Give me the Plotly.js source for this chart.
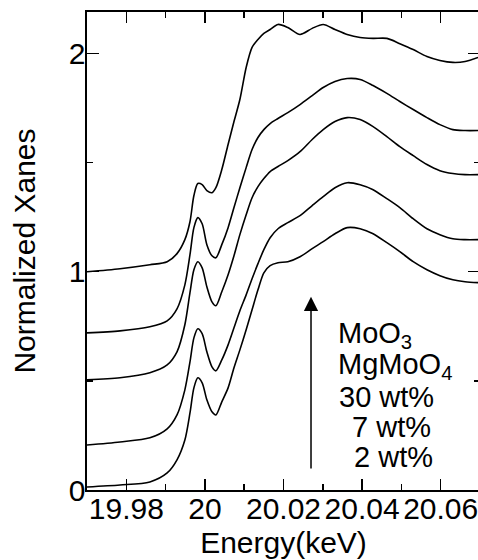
<!DOCTYPE html>
<html>
<head>
<meta charset="utf-8">
<script src="https://cdn.plot.ly/plotly-3.0.1.min.js"></script>
<style>
html, body { margin: 0; padding: 0; overflow: hidden; background: #fff; }
#chart { width: 481px; height: 560px; }
</style>
</head>
<body>
<div id="chart"></div>
<script>
// Energy grid (keV)
var energy = [19.9700,19.9784,19.9860,19.9904,19.9929,19.9949,19.9962,19.9972,19.9982,19.9993,20.0005,20.0018,20.0028,20.0043,20.0059,20.0074,20.0089,20.0105,20.0120,20.0135,20.0150,20.0166,20.0186,20.0211,20.0242,20.0273,20.0301,20.0331,20.0362,20.0395,20.0428,20.0463,20.0496,20.0530,20.0565,20.0598,20.0631,20.0662,20.0695];

// Normalized XANES (offset curves)
var moo3   = [1.000,1.014,1.032,1.046,1.083,1.147,1.229,1.349,1.404,1.399,1.372,1.362,1.385,1.468,1.583,1.688,1.789,1.936,2.028,2.064,2.092,2.110,2.133,2.119,2.087,2.115,2.133,2.110,2.087,2.073,2.069,2.069,2.045,2.018,1.986,1.968,1.959,1.963,1.982];
var mgmoo4 = [0.720,0.729,0.748,0.775,0.830,0.940,1.078,1.202,1.248,1.220,1.124,1.073,1.064,1.124,1.202,1.294,1.385,1.477,1.560,1.615,1.651,1.679,1.702,1.729,1.766,1.807,1.844,1.872,1.885,1.881,1.853,1.817,1.780,1.743,1.706,1.674,1.651,1.647,1.647];
var wt30   = [0.505,0.514,0.537,0.573,0.633,0.757,0.904,1.009,1.046,1.018,0.931,0.862,0.844,0.908,0.986,1.073,1.170,1.261,1.339,1.390,1.427,1.459,1.482,1.509,1.550,1.606,1.651,1.688,1.706,1.697,1.665,1.619,1.573,1.532,1.491,1.463,1.450,1.445,1.445];
var wt7    = [0.206,0.220,0.239,0.280,0.344,0.459,0.587,0.697,0.739,0.716,0.633,0.564,0.546,0.596,0.665,0.743,0.821,0.894,0.968,1.037,1.101,1.156,1.197,1.225,1.257,1.303,1.344,1.385,1.408,1.399,1.376,1.335,1.294,1.243,1.197,1.170,1.151,1.147,1.147];
var wt2    = [0.014,0.023,0.037,0.078,0.138,0.229,0.353,0.468,0.514,0.491,0.413,0.358,0.344,0.404,0.468,0.560,0.642,0.734,0.826,0.917,0.995,1.028,1.041,1.046,1.069,1.106,1.138,1.174,1.202,1.197,1.174,1.133,1.092,1.046,1.009,0.982,0.963,0.954,0.950];

var seriesNames = ["MoO3", "MgMoO4", "30 wt%", "7 wt%", "2 wt%"];
var labels = ["MoO<sub>3</sub>", "MgMoO<sub>4</sub>", "30 wt%", "7 wt%", "2 wt%"];

var allSeries = [moo3, mgmoo4, wt30, wt7, wt2];
var FONT = "Arial, 'Liberation Sans', sans-serif";
var FS = 30;

var traces = allSeries.map(function (ys, i) {
  return {
    x: energy, y: ys, name: seriesNames[i],
    type: "scatter", mode: "lines",
    line: { color: "#000", width: 1.6, shape: "spline", smoothing: 0.8 },
    hoverinfo: "skip"
  };
});

// label placement (data coords)
var labelX = [20.0334, 20.0334, 20.0336, 20.0369, 20.0374];
var labelY = [0.712, 0.567, 0.427, 0.289, 0.151];

var annotations = labels.map(function (t, i) {
  return {
    x: labelX[i], y: labelY[i], xref: "x", yref: "y",
    text: t, showarrow: false, xanchor: "left", yanchor: "middle",
    font: { family: FONT, size: FS - 1, color: "#000" }
  };
});
annotations.push({
  x: 20.0270, y: 0.885, ax: 20.0270, ay: 0.092,
  xref: "x", yref: "y", axref: "x", ayref: "y",
  text: "", showarrow: true, arrowhead: 2, arrowsize: 1.9, arrowwidth: 1.5,
  arrowcolor: "#000", standoff: 0, startstandoff: 0
});

var layout = {
  width: 481, height: 560,
  margin: { l: 87, r: 1, t: 12, b: 70 },
  paper_bgcolor: "#fff", plot_bgcolor: "#fff",
  showlegend: false,
  font: { family: FONT, size: FS, color: "#000" },
  xaxis: {
    range: [19.97, 20.07],
    tickmode: "linear", tick0: 19.98, dtick: 0.02,
    ticks: "inside", ticklen: 11, tickwidth: 1.5, tickcolor: "#000",
    tickangle: 0, ticklabelstandoff: -9,
    minor: { dtick: 0.01, tick0: 19.97, ticks: "inside", ticklen: 6, tickwidth: 1.5, tickcolor: "#000" },
    showline: true, linecolor: "#000", linewidth: 1.6, mirror: "ticks",
    showgrid: false, zeroline: false,
    tickfont: { family: FONT, size: FS, color: "#000" },
    title: { text: "Energy(keV)", font: { family: FONT, size: FS, color: "#000" }, standoff: 8 }
  },
  yaxis: {
    range: [0, 2.19],
    tickmode: "linear", tick0: 0, dtick: 1,
    ticks: "inside", ticklen: 12, tickwidth: 1.5, tickcolor: "#000",
    tickangle: 0, ticklabelstandoff: -6,
    minor: { dtick: 0.5, tick0: 0, ticks: "inside", ticklen: 6, tickwidth: 1.5, tickcolor: "#000" },
    showline: true, linecolor: "#000", linewidth: 1.6, mirror: "ticks",
    showgrid: false, zeroline: false,
    tickfont: { family: FONT, size: FS, color: "#000" },
    title: { text: "Normalized Xanes", font: { family: FONT, size: FS, color: "#000" }, standoff: 24 }
  },
  annotations: annotations
};

Plotly.newPlot("chart", traces, layout, { displayModeBar: false, staticPlot: true });
</script>
</body>
</html>
